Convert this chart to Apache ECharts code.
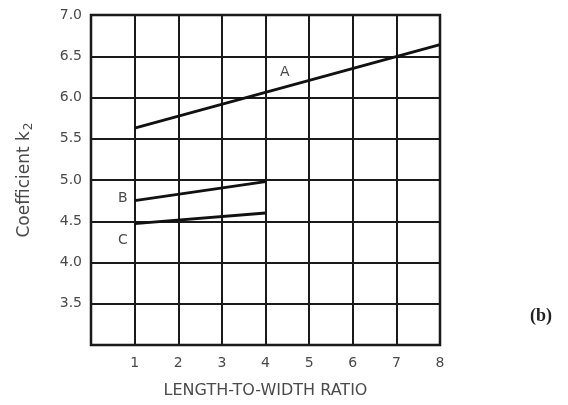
<!DOCTYPE html>
<html>
<head>
<meta charset="utf-8">
<script src="https://cdn.jsdelivr.net/npm/echarts@6/dist/echarts.min.js"></script>
<style>
  html, body { margin: 0; padding: 0; background: #fff; }
  #chart { width: 568px; height: 405px; }
</style>
</head>
<body>
<div id="chart"></div>
<script>
// curve data
var ratioA = [1, 8];
var coefA = [5.63, 6.64];
var ratioB = [1, 4];
var coefB = [4.75, 4.98];
var ratioC = [1, 4];
var coefC = [4.47, 4.60];

var xTicks = ['', '1', '2', '3', '4', '5', '6', '7', '8'];
var yTicks = { 3: '', 3.5: '3.5', 4: '4.0', 4.5: '4.5', 5: '5.0', 5.5: '5.5', 6: '6.0', 6.5: '6.5', 7: '7.0' };

function pairs(xs, ys) {
    var out = [];
    for (var i = 0; i < xs.length; i++) out.push([xs[i], ys[i]]);
    return out;
}

var myChart = echarts.init(document.getElementById('chart'));

var lineStyle = { color: '#111', width: 2.8 };
var textGray = '#4a4a4a';

var option = {
    animation: false,
    grid: { left: 91, top: 15, right: 128, bottom: 60, show: true, borderColor: '#111', borderWidth: 2.5 },
    xAxis: {
        type: 'value',
        min: 0, max: 8, interval: 1,
        name: 'LENGTH-TO-WIDTH RATIO',
        nameLocation: 'middle',
        nameGap: 38,
        nameTextStyle: { color: textGray, fontSize: 16, fontFamily: 'DejaVu Sans' },
        axisLine: { show: false },
        axisTick: { show: false },
        axisLabel: {
            color: textGray, fontSize: 14, fontFamily: 'DejaVu Sans', margin: 11,
            formatter: function (v) { return xTicks[v]; }
        },
        splitLine: { show: true, lineStyle: { color: '#1a1a1a', width: 2 } }
    },
    yAxis: {
        type: 'value',
        min: 3, max: 7, interval: 0.5,
        name: '{a|Coefficient k}{s|2}',
        nameLocation: 'middle',
        nameGap: 56,
        nameRotate: 90,
        nameTextStyle: {
            color: textGray,
            rich: {
                a: { fontSize: 17, fontFamily: 'DejaVu Sans', color: textGray },
                s: { fontSize: 12, fontFamily: 'DejaVu Sans', color: textGray, padding: [9, 0, 0, 1] }
            }
        },
        axisLine: { show: false },
        axisTick: { show: false },
        axisLabel: {
            color: textGray, fontSize: 14, fontFamily: 'DejaVu Sans', margin: 9,
            formatter: function (v) { return yTicks[v]; }
        },
        splitLine: { show: true, lineStyle: { color: '#1a1a1a', width: 2 } }
    },
    graphic: [
        { type: 'text', left: 280, top: 65, style: { text: 'A', fill: textGray, font: '14px DejaVu Sans' } },
        { type: 'text', left: 118, top: 191, style: { text: 'B', fill: textGray, font: '14px DejaVu Sans' } },
        { type: 'text', left: 118, top: 233, style: { text: 'C', fill: textGray, font: '14px DejaVu Sans' } },
        { type: 'text', left: 530, top: 307, style: { text: '(b)', fill: '#222', font: 'bold 18px Liberation Serif' } }
    ],
    series: [
        { name: 'A', type: 'line', showSymbol: false, lineStyle: lineStyle, data: pairs(ratioA, coefA) },
        { name: 'B', type: 'line', showSymbol: false, lineStyle: lineStyle, data: pairs(ratioB, coefB) },
        { name: 'C', type: 'line', showSymbol: false, lineStyle: lineStyle, data: pairs(ratioC, coefC) }
    ]
};

myChart.setOption(option);
</script>
</body>
</html>
